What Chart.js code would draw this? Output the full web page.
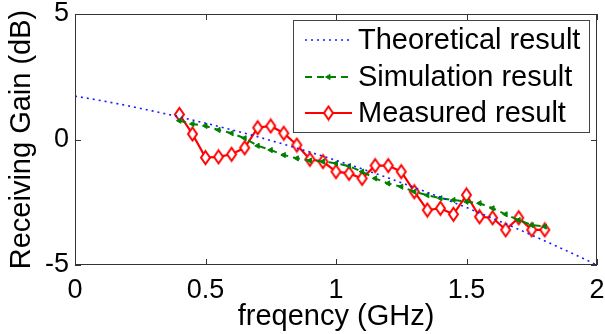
<!doctype html>
<html lang="en">
  <head>
    <meta charset="UTF-8" />
    <title>Receiving Gain vs frequency</title>
    <script src="https://cdn.jsdelivr.net/npm/chart.js"></script>
    <style>
      html, body { margin: 0; padding: 0; background: #fff; }
      #wrap { width: 605px; height: 334px; }
    </style>
  </head>
  <body>
    <div id="wrap"><canvas id="gainChart" width="605" height="334"></canvas></div>

    <script>
      // Theoretical curve
      const theoryFreq = [0, 0.1, 0.2, 0.3, 0.4, 0.5, 0.6, 0.7, 0.8, 0.9, 1.0,
        1.1, 1.2, 1.3, 1.4, 1.5, 1.6, 1.7, 1.8, 1.9, 2.0];
      const theoryGain = [1.73, 1.55, 1.35, 1.13, 0.9, 0.65, 0.39, 0.11, -0.19, -0.5, -0.83,
        -1.17, -1.53, -1.91, -2.3, -2.71, -3.14, -3.58, -4.04, -4.51, -5.0];

      // Simulation and measurement share the same frequency points
      const measFreq = [0.4, 0.45, 0.5, 0.55, 0.6, 0.65, 0.7, 0.75, 0.8, 0.85, 0.9, 0.95, 1.0,
        1.05, 1.1, 1.15, 1.2, 1.25, 1.3, 1.35, 1.4, 1.45, 1.5, 1.55, 1.6, 1.65, 1.7, 1.75, 1.8];
      const simGain = [0.75, 0.62, 0.54, 0.38, 0.25, 0.05, -0.25, -0.42, -0.62, -0.75, -0.84, -0.88, -0.95,
        -1.06, -1.28, -1.55, -1.75, -1.88, -2.08, -2.22, -2.34, -2.41, -2.48, -2.54, -2.74, -2.98, -3.21, -3.41, -3.47];
      const measGain = [1.0, 0.22, -0.72, -0.69, -0.59, -0.33, 0.47, 0.54, 0.25, -0.22, -0.79, -0.88, -1.28,
        -1.35, -1.55, -1.04, -1.04, -1.28, -2.08, -2.81, -2.74, -2.98, -2.21, -3.08, -3.12, -3.6, -3.12, -3.6, -3.6];

      const xTicks = [0, 0.5, 1, 1.5, 2];
      const yTicks = [-5, 0, 5];

      const FONT = "'Liberation Sans', Arial, sans-serif";
      const AXIS_COLOR = "#333";

      const toPoints = (xs, ys) => xs.map((x, i) => ({ x: x, y: ys[i] }));

      // tall matlab-like diamond marker
      function makeDiamond(w, h, color) {
        const c = document.createElement("canvas");
        c.width = w + 4;
        c.height = h + 4;
        const g = c.getContext("2d");
        const cx = c.width / 2, cy = c.height / 2;
        g.beginPath();
        g.moveTo(cx, cy - h / 2);
        g.lineTo(cx + w / 2, cy);
        g.lineTo(cx, cy + h / 2);
        g.lineTo(cx - w / 2, cy);
        g.closePath();
        g.fillStyle = "#fff";
        g.fill();
        g.strokeStyle = color;
        g.lineWidth = 2;
        g.stroke();
        return c;
      }
      const diamond = makeDiamond(9, 13, "#ff0000");

      // fixed scale box, no extra label padding
      const fixScale = (s, size) => {
        if (s.isHorizontal()) s.height = size;
        else s.width = size;
        s.paddingTop = 0;
        s.paddingBottom = 0;
        s.paddingLeft = 0;
        s.paddingRight = 0;
      };

      // matlab style box with inward ticks
      const boxPlugin = {
        id: "box",
        afterDraw(chart) {
          const { ctx, chartArea: a, scales } = chart;
          ctx.save();
          ctx.strokeStyle = AXIS_COLOR;
          ctx.lineWidth = 1;
          ctx.strokeRect(a.left + 0.5, a.top + 0.5, a.right - a.left - 1, a.bottom - a.top - 1);
          ctx.beginPath();
          xTicks.forEach((t) => {
            const px = Math.round(scales.x.getPixelForValue(t)) + 0.5;
            ctx.moveTo(px, a.bottom);
            ctx.lineTo(px, a.bottom - 6);
            ctx.moveTo(px, a.top);
            ctx.lineTo(px, a.top + 6);
          });
          yTicks.forEach((t) => {
            const py = Math.round(scales.y.getPixelForValue(t)) + 0.5;
            ctx.moveTo(a.left, py);
            ctx.lineTo(a.left + 6, py);
            ctx.moveTo(a.right, py);
            ctx.lineTo(a.right - 6, py);
          });
          ctx.stroke();
          ctx.restore();
        },
      };

      // legend box in the top right corner of the axes
      const legendPlugin = {
        id: "boxLegend",
        afterDraw(chart) {
          const ctx = chart.ctx;
          const box = { x: 293, y: 20, w: 296, h: 112 };
          const rowY = [40, 77, 113];
          ctx.save();
          ctx.fillStyle = "#fff";
          ctx.fillRect(box.x, box.y, box.w, box.h);
          ctx.strokeStyle = "#444";
          ctx.lineWidth = 1;
          ctx.strokeRect(box.x + 0.5, box.y + 0.5, box.w, box.h);
          chart.data.datasets.forEach((ds, i) => {
            const y = rowY[i];
            ctx.save();
            ctx.strokeStyle = ds.borderColor;
            ctx.lineWidth = ds.borderWidth;
            ctx.setLineDash(ds.borderDash || []);
            ctx.beginPath();
            ctx.moveTo(305, y);
            ctx.lineTo(352, y);
            ctx.stroke();
            ctx.setLineDash([]);
            if (ds.pointRadius > 0) {
              ctx.fillStyle = ds.pointBackgroundColor;
              ctx.strokeStyle = ds.borderColor;
              ctx.lineWidth = ds.pointBorderWidth;
              Chart.helpers.drawPoint(ctx, {
                pointStyle: ds.pointStyle,
                radius: ds.pointRadius,
                rotation: ds.pointRotation || 0,
                borderWidth: ds.pointBorderWidth,
              }, 328.5, y);
            }
            ctx.restore();
            ctx.fillStyle = "#000";
            ctx.font = "29px " + FONT;
            ctx.textBaseline = "middle";
            ctx.textAlign = "left";
            ctx.fillText(ds.label, 358, y + 1);
          });
          ctx.restore();
        },
      };

      const ctx = document.getElementById("gainChart").getContext("2d");
      new Chart(ctx, {
        type: "line",
        data: {
          datasets: [
            {
              label: "Theoretical result",
              data: toPoints(theoryFreq, theoryGain),
              borderColor: "#1a1aff",
              borderWidth: 1.6,
              borderDash: [2, 4],
              pointRadius: 0,
              fill: false,
              tension: 0,
            },
            {
              label: "Simulation result",
              data: toPoints(measFreq, simGain),
              borderColor: "#008000",
              borderWidth: 2,
              borderDash: [7, 5],
              pointStyle: "triangle",
              pointRotation: -90,
              pointRadius: 3,
              pointBorderWidth: 1,
              pointBackgroundColor: "#008000",
              fill: false,
              tension: 0,
            },
            {
              label: "Measured result",
              data: toPoints(measFreq, measGain),
              borderColor: "#ff0000",
              borderWidth: 2.2,
              pointStyle: diamond,
              pointRadius: 6,
              pointBorderWidth: 2,
              pointBackgroundColor: "#fff",
              fill: false,
              tension: 0,
            },
          ],
        },
        options: {
          responsive: false,
          animation: false,
          layout: { padding: { left: 0, top: 14, right: 8, bottom: 0 }, autoPadding: false },
          scales: {
            x: {
              type: "linear",
              min: 0,
              max: 2,
              afterBuildTicks: (s) => { s.ticks = xTicks.map((v) => ({ value: v })); },
              afterFit: (s) => fixScale(s, 69),
              grid: { display: false, drawTicks: false },
              border: { display: false },
              ticks: {
                padding: 9,
                maxRotation: 0,
                color: "#000",
                font: { family: FONT, size: 27 },
                callback: (v) => String(v),
              },
              title: {
                display: true,
                text: "freqency (GHz)",
                color: "#000",
                font: { family: FONT, size: 29 },
                padding: { top: 0, bottom: 0 },
              },
            },
            y: {
              min: -5,
              max: 5,
              afterBuildTicks: (s) => { s.ticks = yTicks.map((v) => ({ value: v })); },
              afterFit: (s) => fixScale(s, 75),
              grid: { display: false, drawTicks: false },
              border: { display: false },
              ticks: {
                padding: 6,
                color: "#000",
                font: { family: FONT, size: 27 },
                callback: (v) => String(v),
              },
              title: {
                display: true,
                text: "Receiving Gain (dB)",
                color: "#000",
                font: { family: FONT, size: 29 },
                padding: { top: 5, bottom: 0 },
              },
            },
          },
          plugins: {
            legend: { display: false },
            tooltip: { enabled: false },
          },
        },
        plugins: [boxPlugin, legendPlugin],
      });
    </script>
  </body>
</html>
